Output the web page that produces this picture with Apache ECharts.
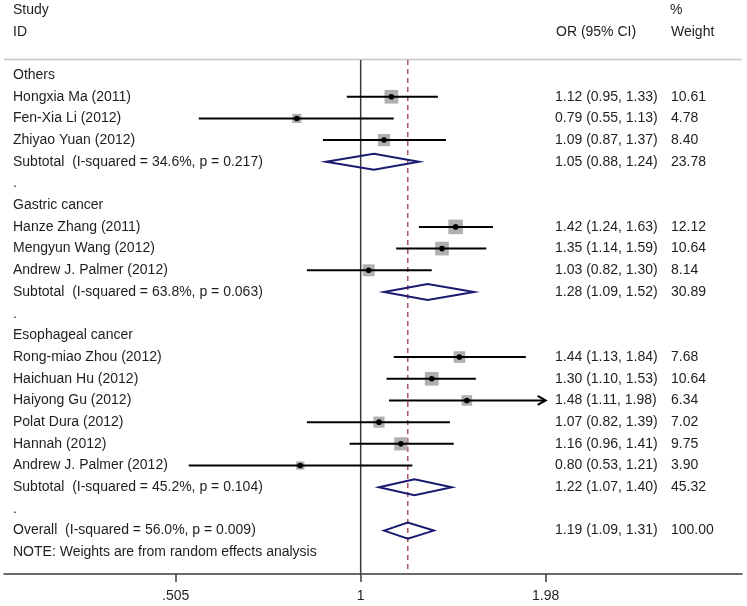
<!DOCTYPE html>
<html>
<head>
<meta charset="utf-8">
<script src="https://cdn.jsdelivr.net/npm/echarts@6/dist/echarts.min.js"></script>
<style>html,body{margin:0;padding:0;background:#fff;}#c{width:747px;height:606px;}</style>
</head>
<body>
<div id="c"></div>
<script>
// ---------- data ----------
const rowLabels = [
  'Others','Hongxia Ma (2011)','Fen-Xia Li (2012)','Zhiyao Yuan (2012)',
  'Subtotal  (I-squared = 34.6%, p = 0.217)','.',
  'Gastric cancer','Hanze Zhang (2011)','Mengyun Wang (2012)','Andrew J. Palmer (2012)',
  'Subtotal  (I-squared = 63.8%, p = 0.063)','.',
  'Esophageal cancer','Rong-miao Zhou (2012)','Haichuan Hu (2012)','Haiyong Gu (2012)',
  'Polat Dura (2012)','Hannah (2012)','Andrew J. Palmer (2012)',
  'Subtotal  (I-squared = 45.2%, p = 0.104)','.',
  'Overall  (I-squared = 56.0%, p = 0.009)',
  'NOTE: Weights are from random effects analysis'
];
const rowKind = ['group','study','study','study','pooled','gap',
  'group','study','study','study','pooled','gap',
  'group','study','study','study','study','study','study','pooled','gap',
  'overall','note'];
const orValues = [null,1.12,0.79,1.09,1.05,null,null,1.42,1.35,1.03,1.28,null,null,1.44,1.30,1.48,1.07,1.16,0.80,1.22,null,1.19,null];
const ciLower  = [null,0.95,0.55,0.87,0.88,null,null,1.24,1.14,0.82,1.09,null,null,1.13,1.10,1.11,0.82,0.96,0.53,1.07,null,1.09,null];
const ciUpper  = [null,1.33,1.13,1.37,1.24,null,null,1.63,1.59,1.30,1.52,null,null,1.84,1.53,1.98,1.39,1.41,1.21,1.40,null,1.31,null];
const weights  = [null,10.61,4.78,8.40,23.78,null,null,12.12,10.64,8.14,30.89,null,null,7.68,10.64,6.34,7.02,9.75,3.90,45.32,null,100.00,null];
const tickValues = [0.505, 1, 1.98];
const tickLabels = ['.505', '1', '1.98'];
const headerLeft = ['Study', 'ID'];
const headerMid = 'OR (95% CI)';
const headerRight = ['%', 'Weight'];
const overallOR = 1.19;

// ---------- layout / style ----------
const FONT = '14px "Liberation Sans", Arial, sans-serif';
const TXT = '#1e1e1e';
const COL_STUDY = 13, COL_OR = 555, COL_W = 671;
const plotLo = tickValues[0], plotHi = tickValues[tickValues.length - 1];
const ln = Math.log;

const chart = echarts.init(document.getElementById('c'), null, {renderer: 'canvas'});

const textData = rowLabels.map((l, i) => [0, i]);
const markData = [];
orValues.forEach((v, i) => {
  if (v != null) markData.push([ln(v), i, ln(ciLower[i]), ln(ciUpper[i]), weights[i]]);
});

function renderText(params, api) {
  const i = params.dataIndex;
  const y = api.coord([0, i])[1];
  const kids = [{
    type: 'text',
    style: {text: rowLabels[i], x: COL_STUDY, y: y, font: FONT, fill: TXT, align: 'left', verticalAlign: 'middle'}
  }];
  if (orValues[i] != null) {
    kids.push({type: 'text', style: {
      text: orValues[i].toFixed(2) + ' (' + ciLower[i].toFixed(2) + ', ' + ciUpper[i].toFixed(2) + ')',
      x: COL_OR, y: y, font: FONT, fill: TXT, align: 'left', verticalAlign: 'middle'}});
    kids.push({type: 'text', style: {
      text: weights[i].toFixed(2), x: COL_W, y: y, font: FONT, fill: TXT, align: 'left', verticalAlign: 'middle'}});
  }
  if (i === 0) {
    const y1 = api.coord([0, -3])[1], y2 = api.coord([0, -2])[1];
    kids.push({type: 'text', style: {text: headerLeft[0], x: COL_STUDY, y: y1, font: FONT, fill: TXT, verticalAlign: 'middle'}});
    kids.push({type: 'text', style: {text: headerLeft[1], x: COL_STUDY, y: y2, font: FONT, fill: TXT, verticalAlign: 'middle'}});
    kids.push({type: 'text', style: {text: headerMid, x: COL_OR + 1, y: y2, font: FONT, fill: TXT, verticalAlign: 'middle'}});
    kids.push({type: 'text', style: {text: headerRight[0], x: COL_W - 1, y: y1, font: FONT, fill: TXT, verticalAlign: 'middle'}});
    kids.push({type: 'text', style: {text: headerRight[1], x: COL_W, y: y2, font: FONT, fill: TXT, verticalAlign: 'middle'}});
  }
  return {type: 'group', children: kids};
}

function renderMarks(params, api) {
  const row = api.value(1);
  const kind = rowKind[row];
  const c = api.coord([api.value(0), row]);
  const lo = Math.max(api.value(2), ln(plotLo));
  const hi = Math.min(api.value(3), ln(plotHi));
  const pLo = api.coord([lo, row]);
  const pHi = api.coord([hi, row]);
  const kids = [];
  if (kind === 'study') {
    const side = 4.2 * Math.sqrt(api.value(4));
    kids.push({type: 'rect', shape: {x: c[0] - side / 2, y: c[1] - side / 2, width: side, height: side},
      style: {fill: '#b0b0b0'}});
    kids.push({type: 'line', shape: {x1: pLo[0], y1: c[1], x2: pHi[0], y2: c[1]},
      style: {stroke: '#000', lineWidth: 2}});
    if (api.value(3) >= ln(plotHi)) {
      kids.push({type: 'polyline', shape: {points: [[pHi[0] - 8, c[1] - 4.5], [pHi[0], c[1]], [pHi[0] - 8, c[1] + 4.5]]},
        style: {stroke: '#000', lineWidth: 2, fill: null}});
    }
    kids.push({type: 'circle', shape: {cx: c[0], cy: c[1], r: 2.8}, style: {fill: '#000'}});
  } else {
    const h = 8;
    kids.push({type: 'polygon', shape: {points: [[pLo[0], c[1]], [c[0], c[1] - h], [pHi[0], c[1]], [c[0], c[1] + h]]},
      style: {fill: 'rgba(255,255,255,0)', stroke: '#1a1a70', lineWidth: 2}});
  }
  return {type: 'group', children: kids};
}

function renderRefs(params, api) {
  const top = -0.69, bot = 23;
  const a = api.coord([0, top]), b = api.coord([0, bot]);
  const oa = api.coord([ln(overallOR), top]), ob = api.coord([ln(overallOR), bot]);
  return {type: 'group', children: [
    {type: 'line', shape: {x1: a[0], y1: a[1], x2: b[0], y2: b[1]}, style: {stroke: '#3a3a3a', lineWidth: 1.5}},
    {type: 'line', shape: {x1: oa[0], y1: oa[1], x2: ob[0], y2: ob[1]}, style: {stroke: '#a04858', lineWidth: 1.4, lineDash: [5, 4]}}
  ]};
}

chart.setOption({
  animation: false,
  backgroundColor: '#fff',
  grid: {left: 4, right: 5, top: 0, height: 574, containLabel: false},
  xAxis: {
    type: 'value', min: -1.317, max: 1.408,
    axisLine: {show: true, onZero: false, lineStyle: {color: '#3a3a3a', width: 1.5}},
    axisTick: {show: true, length: 8, inside: false, customValues: tickValues.map(ln), lineStyle: {color: '#3a3a3a', width: 1.5}},
    axisLabel: {show: true, customValues: tickValues.map(ln), margin: 15, color: TXT, fontSize: 14, fontFamily: '"Liberation Sans", Arial, sans-serif',
      formatter: function (v) {
        let best = 0;
        tickValues.forEach((t, k) => { if (Math.abs(ln(t) - v) < Math.abs(ln(tickValues[best]) - v)) best = k; });
        return tickLabels[best];
      }},
    splitLine: {show: false}
  },
  yAxis: {type: 'value', inverse: true, min: -3.459, max: 23, show: false, splitLine: {show: false}},
  graphic: [{type: 'line', shape: {x1: 4, y1: 59.5, x2: 742, y2: 59.5}, style: {stroke: '#c8c8c8', lineWidth: 1.5}, z: 1}],
  series: [
    {type: 'custom', name: 'refs', data: [[0, 0]], renderItem: renderRefs, z: 1, silent: true},
    {type: 'custom', name: 'marks', data: markData, renderItem: renderMarks, z: 3,
      encode: {x: [0, 2, 3], y: 1}, silent: true},
    {type: 'custom', name: 'text', data: textData, renderItem: renderText, z: 4, silent: true}
  ]
});
</script>
</body>
</html>
